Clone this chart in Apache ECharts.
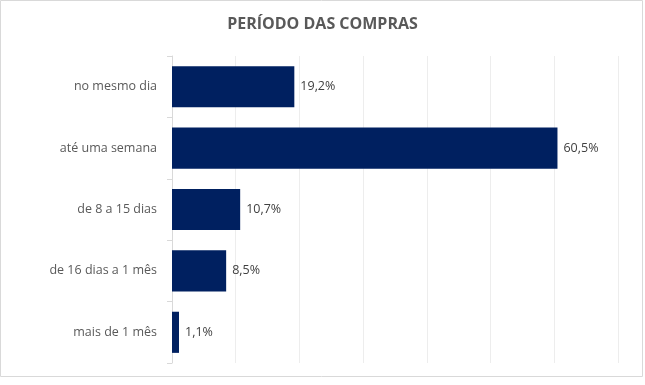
<!DOCTYPE html>
<html><head><meta charset="utf-8">
<script src="https://cdn.jsdelivr.net/npm/echarts@6/dist/echarts.min.js"></script>
<style>html,body{margin:0;padding:0;background:#fff}#c{width:645px;height:385px}</style>
</head><body><div id="c"></div>
<script>
var categories = ['no mesmo dia','até uma semana','de 8 a 15 dias','de 16 dias a 1 mês','mais de 1 mês'];
var values = [19.2, 60.5, 10.7, 8.5, 1.1];
var title = 'PERÍODO DAS COMPRAS';
var chart = echarts.init(document.getElementById('c'));
chart.setOption({
  animation: false,
  graphic: [{type:'rect', shape:{x:0.5,y:0.5,width:642,height:376}, style:{fill:'none', stroke:'#d9d9d9', lineWidth:1}, silent:true}],
  title: {text: title, left: 'center', top: 11, textStyle:{fontFamily:'Open Sans', fontWeight:'bold', fontSize:16, color:'#595959'}},
  grid: {left:172, right:27, top:56, bottom:22, containLabel:false},
  xAxis: {type:'value', min:0, max:70, interval:10, axisLabel:{show:false}, axisLine:{show:false}, axisTick:{show:false},
    splitLine:{show:true, lineStyle:{color:'#ededed', width:1}}},
  yAxis: {type:'category', data: categories, inverse:true,
    axisLine:{show:true, lineStyle:{color:'#d9d9d9'}},
    axisTick:{show:true, length:5, lineStyle:{color:'#d9d9d9'}},
    axisLabel:{margin:15, fontFamily:'Open Sans', fontSize:12.5, color:'#595959'}},
  series: [{type:'bar', data: values, barCategoryGap:'33%', itemStyle:{color:'#002060'},
    label:{show:true, position:'right', distance:6, fontFamily:'Open Sans', fontSize:12.5, color:'#404040',
      formatter: function(p){ return p.value.toFixed(1).replace('.', ',') + '%'; }}}]
});
</script></body></html>
